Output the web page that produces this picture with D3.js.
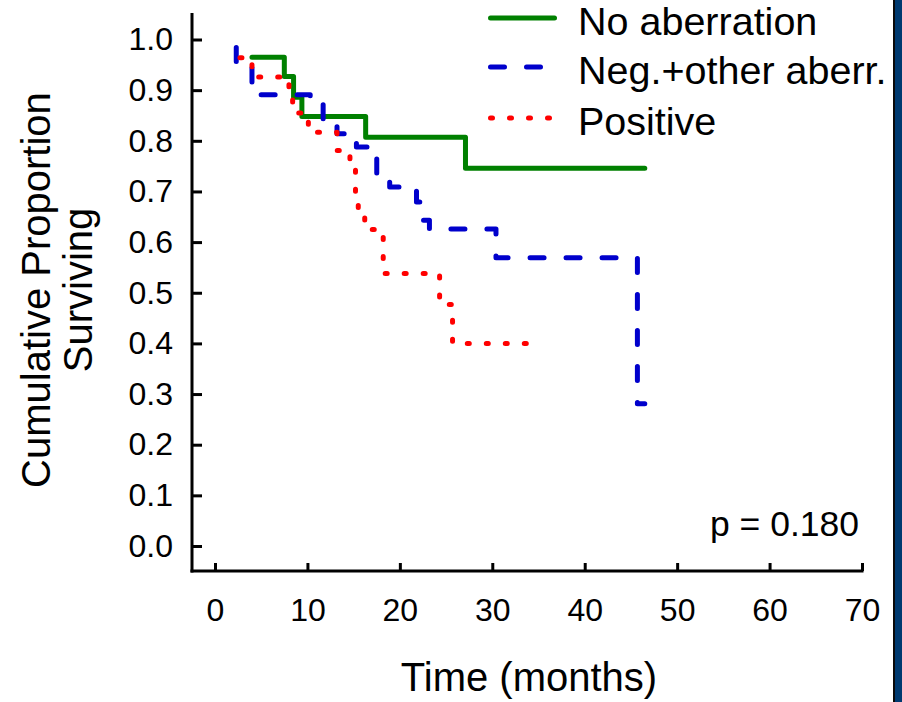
<!DOCTYPE html>
<html>
<head>
<meta charset="utf-8">
<script src="https://cdn.jsdelivr.net/npm/d3@7"></script>
<style>
  body { margin: 0; background: #fff; }
  svg { display: block; font-family: "Liberation Sans", Arial, sans-serif; }
</style>
</head>
<body>
<svg id="chart" width="902" height="702"></svg>
<script>
// step curves: time (months) and cumulative survival
var noAberTime = [4.0, 7.5, 8.5, 9.4, 16.3, 27.1, 46.5];
var noAberSurv = [0.965, 0.927, 0.886, 0.848, 0.807, 0.746, 0.746];

var negTime = [2.3, 2.3, 4.0, 10.3, 11.7, 13.2, 15.3, 17.5, 18.9, 21.8, 22.2, 23.2, 30.4, 45.7, 46.5];
var negSurv = [0.984, 0.947, 0.891, 0.872, 0.840, 0.814, 0.788, 0.726, 0.709, 0.679, 0.643, 0.626, 0.569, 0.281, 0.281];

var posTime = [2.7, 4.0, 8.0, 8.4, 10.1, 13.2, 14.6, 15.2, 15.5, 16.2, 18.2, 24.3, 25.7, 34.9];
var posSurv = [0.964, 0.926, 0.893, 0.855, 0.817, 0.781, 0.757, 0.690, 0.663, 0.625, 0.538, 0.477, 0.400, 0.400];

var groupNames = ["No aberration", "Neg.+other aberr.", "Positive"];
var groupColors = ["#008000", "#0000cc", "#ff0000"];
var groupDash = [null, "14 22", "2 17"];

var xTicks = [0, 10, 20, 30, 40, 50, 60, 70];
var yTicks = [0, 0.1, 0.2, 0.3, 0.4, 0.5, 0.6, 0.7, 0.8, 0.9, 1.0];
var pLabel = "p = 0.180";

var svg = d3.select("#chart");

var x = d3.scaleLinear().domain([0, 70]).range([215, 862]);
var y = d3.scaleLinear().domain([0, 1]).range([546, 39.5]);

var axisLeftX = 192, axisBottomY = 571;

// y axis (inward ticks)
var yAxis = d3.axisLeft(y)
  .tickValues(yTicks)
  .tickSize(-10)
  .tickPadding(19)
  .tickFormat(d3.format(".1f"));

var gy = svg.append("g")
  .attr("transform", "translate(" + axisLeftX + ",0)")
  .call(yAxis);
gy.select(".domain").remove();
gy.selectAll(".tick line").attr("stroke", "#000").attr("stroke-width", 3);
gy.selectAll(".tick text")
  .attr("font-size", 32)
  .attr("font-family", "Liberation Sans, Arial, sans-serif")
  .attr("fill", "#000");

// x axis (inward ticks)
var xAxis = d3.axisBottom(x)
  .tickValues(xTicks)
  .tickSize(-8)
  .tickPadding(27);

var gx = svg.append("g")
  .attr("transform", "translate(0," + axisBottomY + ")")
  .call(xAxis);
gx.select(".domain").remove();
gx.selectAll(".tick line").attr("stroke", "#000").attr("stroke-width", 3);
gx.selectAll(".tick text")
  .attr("font-size", 32)
  .attr("font-family", "Liberation Sans, Arial, sans-serif")
  .attr("fill", "#000");

// axis lines
svg.append("line")
  .attr("x1", axisLeftX).attr("x2", axisLeftX)
  .attr("y1", 13).attr("y2", axisBottomY + 1.5)
  .attr("stroke", "#000").attr("stroke-width", 3);
svg.append("line")
  .attr("x1", axisLeftX - 1.5).attr("x2", x(70) + 1.5)
  .attr("y1", axisBottomY).attr("y2", axisBottomY)
  .attr("stroke", "#000").attr("stroke-width", 3);

// titles
svg.append("text")
  .attr("x", 529).attr("y", 691)
  .attr("text-anchor", "middle")
  .attr("font-size", 40)
  .text("Time (months)");

var yTitle = svg.append("text")
  .attr("transform", "translate(0,290) rotate(-90)")
  .attr("text-anchor", "middle")
  .attr("font-size", 40);
yTitle.append("tspan").attr("x", 0).attr("y", 50).text("Cumulative Proportion");
yTitle.append("tspan").attr("x", 0).attr("y", 92).text("Surviving");

// survival curves
var line = d3.line()
  .x(d => x(d[0]))
  .y(d => y(d[1]))
  .curve(d3.curveStepAfter);

var series = [
  d3.zip(noAberTime, noAberSurv),
  d3.zip(negTime, negSurv),
  d3.zip(posTime, posSurv)
];

series.forEach(function(pts, i) {
  svg.append("path")
    .datum(pts)
    .attr("fill", "none")
    .attr("stroke", groupColors[i])
    .attr("stroke-width", 5)
    .attr("stroke-linecap", "round")
    .attr("stroke-linejoin", "round")
    .attr("stroke-dasharray", groupDash[i])
    .attr("d", line);
});

// legend
var legendY = [18, 67, 118];
groupNames.forEach(function(name, i) {
  svg.append("line")
    .attr("x1", 490.5).attr("x2", 554.5)
    .attr("y1", legendY[i]).attr("y2", legendY[i])
    .attr("stroke", groupColors[i])
    .attr("stroke-width", 5)
    .attr("stroke-linecap", "round")
    .attr("stroke-dasharray", groupDash[i]);
  svg.append("text")
    .attr("x", 578).attr("y", legendY[i] + 17)
    .attr("font-size", 39.5)
    .text(name);
});

// p value
svg.append("text")
  .attr("x", 859).attr("y", 536)
  .attr("text-anchor", "end")
  .attr("font-size", 35.5)
  .text(pLabel);

// dark frame strip on the right edge
svg.append("rect")
  .attr("x", 893).attr("y", 0)
  .attr("width", 9).attr("height", 702)
  .attr("fill", "#003a70");
svg.append("rect")
  .attr("x", 893).attr("y", 0)
  .attr("width", 2).attr("height", 702)
  .attr("fill", "#0a0a0a");
</script>
</body>
</html>
